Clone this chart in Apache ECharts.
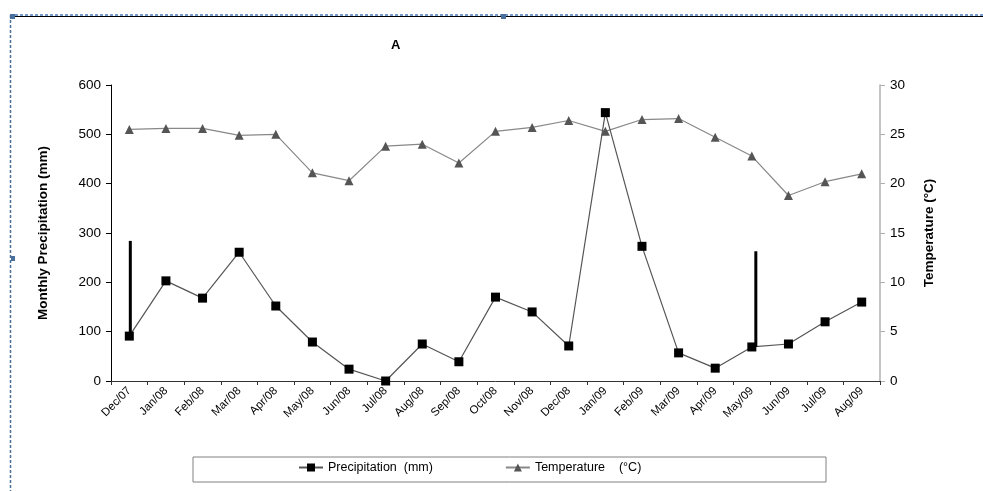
<!DOCTYPE html>
<html>
<head>
<meta charset="utf-8">
<script src="https://cdn.jsdelivr.net/npm/echarts@6/dist/echarts.min.js"></script>
<style>
  html, body { margin: 0; padding: 0; background: #fff; }
  #main { width: 983px; height: 491px; }
</style>
</head>
<body>
<div id="main"></div>
<script>
var months = ['Dec/07', 'Jan/08', 'Feb/08', 'Mar/08', 'Apr/08', 'May/08', 'Jun/08', 'Jul/08', 'Aug/08', 'Sep/08', 'Oct/08',
  'Nov/08', 'Dec/08', 'Jan/09', 'Feb/09', 'Mar/09', 'Apr/09', 'May/09', 'Jun/09', 'Jul/09', 'Aug/09'];
var precipitation = [91, 203, 168, 261, 152, 79, 24, 0, 75, 39, 170, 140, 71, 544, 273, 57, 26, 69, 75, 120, 160];
var temperature = [25.5, 25.6, 25.6, 24.9, 25.0, 21.1, 20.3, 23.8, 24.0, 22.1, 25.3, 25.7, 26.4, 25.3, 26.5, 26.6, 24.7, 22.8, 18.8, 20.2, 21.0];
// vertical bars: [month index, bottom, top] in mm
var spikes = [[0, 91, 284], [17, 69, 263]];
var precipTicks = [0, 600, 100];
var tempTicks = [0, 30, 5];

var chart = echarts.init(document.getElementById('main'));
var font = 'Liberation Sans, Arial, sans-serif';

var option = {
  animation: false,
  textStyle: { fontFamily: font },
  title: {
    text: 'A',
    left: 386, top: 34,
    textStyle: { fontSize: 13, fontWeight: 'bold', color: '#000', fontFamily: font }
  },
  grid: { left: 111, right: 103, top: 85, bottom: 110 },
  legend: {
    bottom: 12, left: 293,
    itemGap: 72, itemWidth: 24, itemHeight: 10,
    textStyle: { fontSize: 12.5, color: '#000', fontFamily: font },
    data: ['Precipitation  (mm)', 'Temperature    (°C)']
  },
  graphic: [
    { type: 'rect', shape: { x: 193, y: 457, width: 633, height: 25 }, style: { fill: 'none', stroke: '#808080', lineWidth: 1 }, z: -1 },
    { type: 'line', shape: { x1: 10, y1: 16.5, x2: 983, y2: 16.5 }, style: { stroke: '#000', lineWidth: 1 } },
    { type: 'line', shape: { x1: 10, y1: 15, x2: 983, y2: 15 }, style: { stroke: '#4a7ebb', lineWidth: 1.5, lineDash: [3, 2] } },
    { type: 'line', shape: { x1: 10.5, y1: 15, x2: 10.5, y2: 491 }, style: { stroke: '#4a6f9b', lineWidth: 1.5, lineDash: [3, 2] } },
    { type: 'rect', shape: { x: 10, y: 14, width: 5, height: 5 }, style: { fill: '#4a6f9b' } },
    { type: 'rect', shape: { x: 501, y: 14, width: 5, height: 5 }, style: { fill: '#4a6f9b' } },
    { type: 'rect', shape: { x: 11, y: 256, width: 4, height: 5 }, style: { fill: '#4a6f9b' } }
  ],
  xAxis: {
    type: 'category',
    data: months,
    boundaryGap: true,
    axisLine: { lineStyle: { color: '#333', width: 1 } },
    axisTick: { show: true, length: 4, lineStyle: { color: '#333' } },
    axisLabel: { rotate: 45, fontSize: 11.5, color: '#000', margin: 8, interval: 0 }
  },
  yAxis: [
    {
      type: 'value',
      min: precipTicks[0], max: precipTicks[1], interval: precipTicks[2],
      name: 'Monthly Precipitation (mm)',
      nameLocation: 'middle', nameGap: 61,
      nameTextStyle: { fontSize: 13.5, fontWeight: 'bold', color: '#000' },
      axisLine: { show: true, lineStyle: { color: '#000' } },
      axisTick: { show: true, length: 5, lineStyle: { color: '#000' } },
      axisLabel: { fontSize: 13.5, color: '#000', margin: 10 },
      splitLine: { show: false }
    },
    {
      type: 'value',
      min: tempTicks[0], max: tempTicks[1], interval: tempTicks[2],
      name: 'Temperature (°C)',
      nameLocation: 'middle', nameGap: 42, nameRotate: 90,
      nameTextStyle: { fontSize: 13.5, fontWeight: 'bold', color: '#000' },
      axisLine: { show: true, lineStyle: { color: '#b0b0b0', width: 1.5 } },
      axisTick: { show: true, length: 5, lineStyle: { color: '#b0b0b0' } },
      axisLabel: { fontSize: 13.5, color: '#000', margin: 10 },
      splitLine: { show: false }
    }
  ],
  series: [
    {
      name: 'Precipitation  (mm)',
      type: 'line',
      yAxisIndex: 0,
      data: precipitation,
      symbol: 'rect', symbolSize: 9,
      itemStyle: { color: '#000' },
      lineStyle: { color: '#555', width: 1.2 },
      z: 3
    },
    {
      name: 'Temperature    (°C)',
      type: 'line',
      yAxisIndex: 1,
      data: temperature,
      symbol: 'triangle', symbolSize: 9,
      itemStyle: { color: '#555' },
      lineStyle: { color: '#888', width: 1.2 },
      z: 2
    },
    {
      type: 'custom',
      yAxisIndex: 0,
      data: spikes,
      silent: true,
      renderItem: function (params, api) {
        var p0 = api.coord([api.value(0), api.value(1)]);
        var p1 = api.coord([api.value(0), api.value(2)]);
        var dx = params.dataIndex === 0 ? 1 : 4;
        return {
          type: 'line',
          shape: { x1: p0[0] + dx, y1: p0[1], x2: p1[0] + dx, y2: p1[1] },
          style: { stroke: '#000', lineWidth: 3 }
        };
      },
      z: 4
    }
  ]
};
chart.setOption(option);
</script>
</body>
</html>
